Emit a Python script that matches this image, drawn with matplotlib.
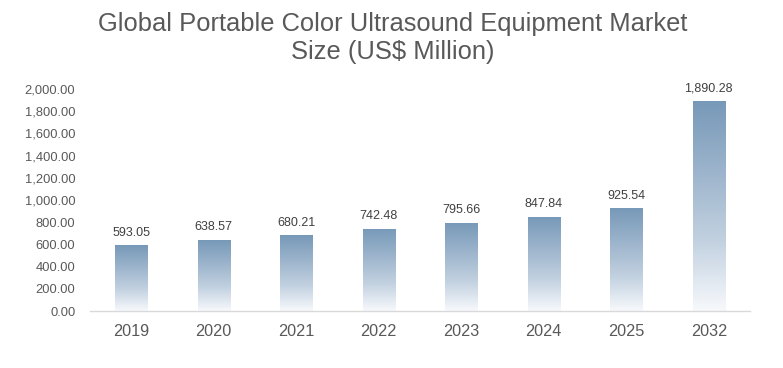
import matplotlib
matplotlib.use("Agg")
import matplotlib.pyplot as plt
import numpy as np
from matplotlib.colors import LinearSegmentedColormap
from matplotlib.ticker import FuncFormatter

years = ["2019", "2020", "2021", "2022", "2023", "2024", "2025", "2032"]
values = [593.05, 638.57, 680.21, 742.48, 795.66, 847.84, 925.54, 1890.28]
labels = ["593.05", "638.57", "680.21", "742.48", "795.66", "847.84", "925.54", "1,890.28"]

plt.rcParams['font.family'] = ['Liberation Sans', 'DejaVu Sans']

fig = plt.figure(figsize=(7.83, 3.68), dpi=100)
ax = fig.add_axes([90/783, (368-311)/368, 660/783, 222/368])

x = np.arange(len(years))
bars = ax.bar(x, values, width=0.39, color='none', edgecolor='none', zorder=2)

cmap = LinearSegmentedColormap.from_list("g", ["#f7f9fc", "#c2d1e0", "#9cb4cc", "#7799b8"])
grad = np.linspace(0, 1, 256).reshape(-1, 1)
for b in bars:
    x0, w, h = b.get_x(), b.get_width(), b.get_height()
    im = ax.imshow(grad, cmap=cmap, origin='lower', aspect='auto',
                   extent=[x0, x0 + w, 0, h], zorder=2)
    im.set_clip_path(b)

for xi, v, lab in zip(x, values, labels):
    ax.text(xi, v + 60, lab, ha='center', va='bottom', fontsize=9, color='#404040')

ax.set_xlim(-0.5, len(years) - 0.5)
ax.set_ylim(0, 2000)
ax.set_yticks(np.arange(0, 2001, 200))
ax.yaxis.set_major_formatter(FuncFormatter(lambda v, p: f"{v:,.2f}"))
ax.set_xticks(x)
ax.set_xticklabels(years)
ax.tick_params(axis='y', length=0, labelsize=9.3, labelcolor='#595959', pad=10.5)
ax.tick_params(axis='x', length=0, labelsize=11.7, labelcolor='#595959', pad=9)
for s in ['top', 'right', 'left']:
    ax.spines[s].set_visible(False)
ax.spines['bottom'].set_color('#d9d9d9')
ax.spines['bottom'].set_linewidth(1)

fig.text(393/783, 1 - 38/368, "Global Portable Color Ultrasound Equipment Market\nSize (US$ Million)",
         ha='center', va='center', fontsize=18.4, color='#595959', linespacing=1.22)

fig.savefig("out.png", dpi=100)
